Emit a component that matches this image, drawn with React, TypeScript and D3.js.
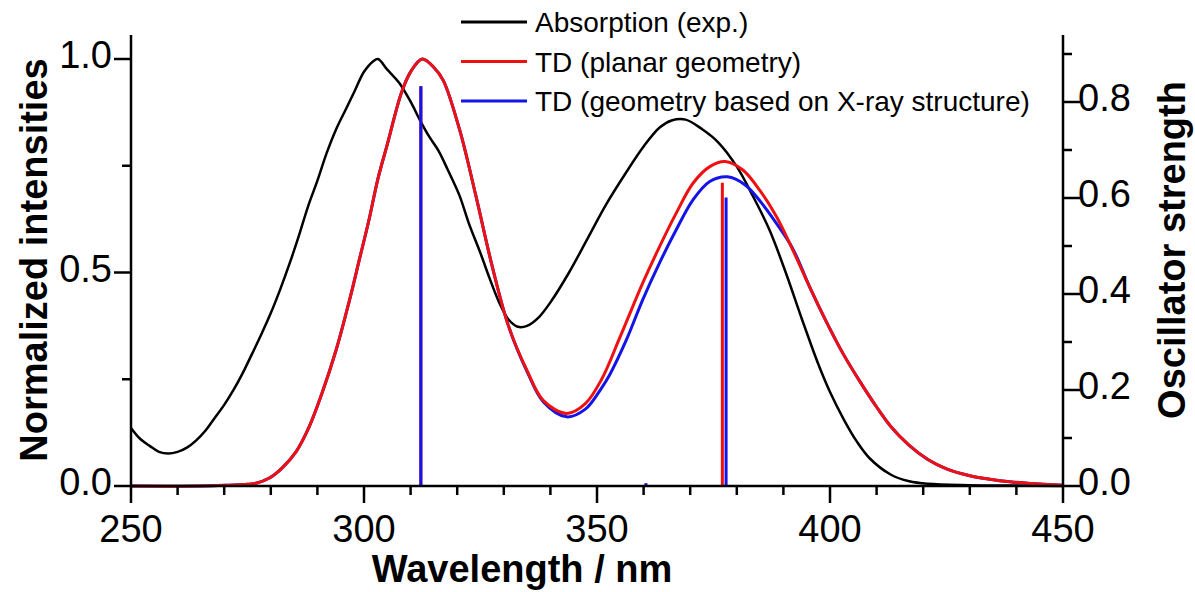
import * as d3 from "d3";

// experimental absorption, normalized
const EXP_WL = [250, 252, 254, 256, 258, 260, 262, 264, 266, 268, 270, 272, 274, 276, 278, 280, 282, 284, 286, 288, 290, 292, 294, 296, 298, 300, 302, 303, 305, 307.5, 310, 312, 314, 316, 318, 320.5, 322.5, 325, 327, 329, 331, 333, 335, 337.5, 340, 344, 348, 352, 356, 360, 363.5, 366, 369, 372.5, 376, 380, 383.5, 387, 390.5, 394, 397.5, 400, 403, 405.7, 408.5, 413, 417, 421, 430, 440, 450];
const EXP_VAL = [0.136, 0.11, 0.094, 0.08, 0.076, 0.08, 0.09, 0.107, 0.13, 0.16, 0.19, 0.225, 0.265, 0.31, 0.356, 0.405, 0.46, 0.52, 0.585, 0.655, 0.715, 0.78, 0.835, 0.88, 0.925, 0.97, 0.995, 1.0, 0.975, 0.945, 0.9, 0.857, 0.818, 0.785, 0.74, 0.68, 0.615, 0.545, 0.485, 0.43, 0.39, 0.373, 0.375, 0.395, 0.43, 0.5, 0.58, 0.66, 0.73, 0.795, 0.84, 0.856, 0.858, 0.836, 0.805, 0.748, 0.678, 0.6, 0.5, 0.39, 0.285, 0.22, 0.155, 0.105, 0.065, 0.027, 0.011, 0.005, 0.002, 0.001, 0];

// TD, planar geometry
const PLANAR_WL = [250, 265, 271, 275, 277, 279.6, 282.4, 285.4, 288.2, 291, 294, 297, 299, 301, 303, 305, 308, 310, 312.5, 315, 317, 320.5, 324, 327.5, 331, 335, 338.5, 343.5, 347.5, 351, 354.8, 359.8, 363.4, 367, 370.6, 374.2, 377.5, 381.3, 384.9, 388.5, 392, 395.6, 399.2, 402.8, 406.4, 410, 413, 417, 421, 425, 430, 434.3, 438.6, 442.9, 450];
const PLANAR_VAL = [0, 0, 0.002, 0.004, 0.007, 0.018, 0.042, 0.08, 0.138, 0.218, 0.318, 0.44, 0.53, 0.62, 0.72, 0.8, 0.92, 0.97, 1.0, 0.98, 0.95, 0.835, 0.68, 0.515, 0.375, 0.27, 0.2, 0.17, 0.193, 0.25, 0.345, 0.475, 0.56, 0.639, 0.709, 0.748, 0.76, 0.74, 0.693, 0.631, 0.553, 0.467, 0.385, 0.31, 0.245, 0.185, 0.14, 0.095, 0.062, 0.04, 0.024, 0.016, 0.01, 0.006, 0.002];

// TD, geometry based on X-ray structure
const XRAY_WL = [250, 265, 271, 275, 277, 279.6, 282.4, 285.4, 288.2, 291, 294, 297, 299, 301, 303, 305, 308, 310, 312.5, 315, 317, 320.5, 324, 327.5, 331, 335, 338.5, 343.5, 347.5, 351, 352.7, 356.3, 359.8, 363.4, 367, 370.6, 374.2, 378, 381.8, 385.3, 388.5, 392, 395.6, 399.2, 402.8, 406.4, 410, 413, 417, 421, 425, 430, 434.3, 438.6, 442.9, 450];
const XRAY_VAL = [0, 0, 0.002, 0.004, 0.007, 0.018, 0.042, 0.08, 0.138, 0.218, 0.318, 0.44, 0.53, 0.62, 0.72, 0.8, 0.92, 0.97, 1.0, 0.98, 0.95, 0.835, 0.68, 0.515, 0.375, 0.268, 0.197, 0.162, 0.18, 0.23, 0.26, 0.342, 0.436, 0.522, 0.6, 0.67, 0.713, 0.724, 0.705, 0.663, 0.615, 0.556, 0.467, 0.385, 0.31, 0.245, 0.185, 0.14, 0.095, 0.062, 0.04, 0.024, 0.016, 0.01, 0.006, 0.002];

// oscillator strengths
const PLANAR_STICK_WL = [312.2, 376.9];
const PLANAR_STICK_F = [0.833, 0.632];
const XRAY_STICK_WL = [312.2, 360.5, 377.7];
const XRAY_STICK_F = [0.833, 0.006, 0.601];

const X_MAJOR = [250, 300, 350, 400, 450];
const X_MINOR = [260, 270, 280, 290, 310, 320, 330, 340, 360, 370, 380, 390, 410, 420, 430, 440];
const L_MAJOR = [0, 0.5, 1.0];
const L_MINOR = [0.25, 0.75];
const R_MAJOR = [0, 0.2, 0.4, 0.6, 0.8];
const R_MINOR = [0.1, 0.3, 0.5, 0.7, 0.9];

const LEGEND = ["Absorption (exp.)", "TD (planar geometry)", "TD (geometry based on X-ray structure)"];

const BLACK = "#000000";
const RED = "#ee1111";
const BLUE = "#1414e6";
const FONT = "Arial, 'Liberation Sans', sans-serif";

export default function App() {
  const width = 1195;
  const height = 592;
  const left = 131;
  const right = 1063;
  const bottom = 486;
  const axisTop = 35;

  const x = d3.scaleLinear().domain([250, 450]).range([left, right]);
  const yL = d3.scaleLinear().domain([0, 1]).range([bottom, 59]);
  const yR = d3.scaleLinear().domain([0, 0.8]).range([bottom, 102]);

  const line = d3
    .line<[number, number]>()
    .x((d) => x(d[0]))
    .y((d) => yL(d[1]))
    .curve(d3.curveCatmullRom.alpha(0.5));

  const exp = EXP_WL.map((w, i) => [w, EXP_VAL[i]] as [number, number]);
  const planar = PLANAR_WL.map((w, i) => [w, PLANAR_VAL[i]] as [number, number]);
  const xray = XRAY_WL.map((w, i) => [w, XRAY_VAL[i]] as [number, number]);

  const legendColors = [BLACK, RED, BLUE];

  return (
    <div>
      <style>{`body{margin:0}`}</style>
      <svg width={width} height={height} style={{ display: "block", background: "#fff" }}>
        {/* curves */}
        <path d={line(exp) ?? ""} fill="none" stroke={BLACK} strokeWidth={2.5} />
        <path d={line(xray) ?? ""} fill="none" stroke={BLUE} strokeWidth={3} />
        <path d={line(planar) ?? ""} fill="none" stroke={RED} strokeWidth={3} />

        {/* sticks */}
        {PLANAR_STICK_WL.map((w, i) => (
          <line key={"ps" + i} x1={x(w)} x2={x(w)} y1={yR(0)} y2={yR(PLANAR_STICK_F[i])} stroke={RED} strokeWidth={3} />
        ))}
        {XRAY_STICK_WL.map((w, i) => (
          <line key={"xs" + i} x1={x(w)} x2={x(w)} y1={yR(0)} y2={yR(XRAY_STICK_F[i])} stroke={BLUE} strokeWidth={3} />
        ))}

        {/* axes */}
        <g stroke="#000" strokeWidth={2.5}>
          <line x1={left} x2={right} y1={bottom} y2={bottom} />
          <line x1={left} x2={left} y1={bottom + 1} y2={axisTop} />
          <line x1={right} x2={right} y1={bottom + 1} y2={axisTop} />
          {X_MAJOR.map((t) => (
            <line key={"xm" + t} x1={x(t)} x2={x(t)} y1={bottom} y2={bottom + 17} />
          ))}
          {X_MINOR.map((t) => (
            <line key={"xn" + t} x1={x(t)} x2={x(t)} y1={bottom} y2={bottom + 9} />
          ))}
          {L_MAJOR.map((t) => (
            <line key={"lm" + t} x1={left - 17} x2={left} y1={yL(t)} y2={yL(t)} />
          ))}
          {L_MINOR.map((t) => (
            <line key={"ln" + t} x1={left - 9} x2={left} y1={yL(t)} y2={yL(t)} />
          ))}
          {R_MAJOR.map((t) => (
            <line key={"rm" + t} x1={right} x2={right + 17} y1={yR(t)} y2={yR(t)} />
          ))}
          {R_MINOR.map((t) => (
            <line key={"rn" + t} x1={right} x2={right + 9} y1={yR(t)} y2={yR(t)} />
          ))}
        </g>

        {/* tick labels */}
        <g fontFamily={FONT} fontSize={38} fill="#000">
          {X_MAJOR.map((t) => (
            <text key={"xl" + t} x={x(t)} y={bottom + 56} textAnchor="middle">
              {t}
            </text>
          ))}
          {L_MAJOR.map((t) => (
            <text key={"ll" + t} x={left - 19} y={yL(t)} dy="0.24em" textAnchor="end">
              {t.toFixed(1)}
            </text>
          ))}
          {R_MAJOR.map((t) => (
            <text key={"rl" + t} x={right + 15} y={yR(t)} dy="0.24em" textAnchor="start">
              {t.toFixed(1)}
            </text>
          ))}
        </g>

        {/* axis titles */}
        <g fontFamily={FONT} fontSize={38} fontWeight="bold" fill="#000">
          <text x={522} y={582} textAnchor="middle">
            Wavelength / nm
          </text>
          <text transform={`translate(47, 260) rotate(-90)`} textAnchor="middle">
            Normalized intensities
          </text>
          <text transform={`translate(1185, 250) rotate(-90)`} textAnchor="middle">
            Oscillator strength
          </text>
        </g>

        {/* legend */}
        <g fontFamily={FONT} fontSize={28} fill="#000">
          {LEGEND.map((name, i) => (
            <g key={name} transform={`translate(0, ${22 + i * 39.5})`}>
              <line x1={461} x2={527} y1={0} y2={0} stroke={legendColors[i]} strokeWidth={3} />
              <text x={535} y={0} dy="0.36em">
                {name}
              </text>
            </g>
          ))}
        </g>
      </svg>
    </div>
  );
}
